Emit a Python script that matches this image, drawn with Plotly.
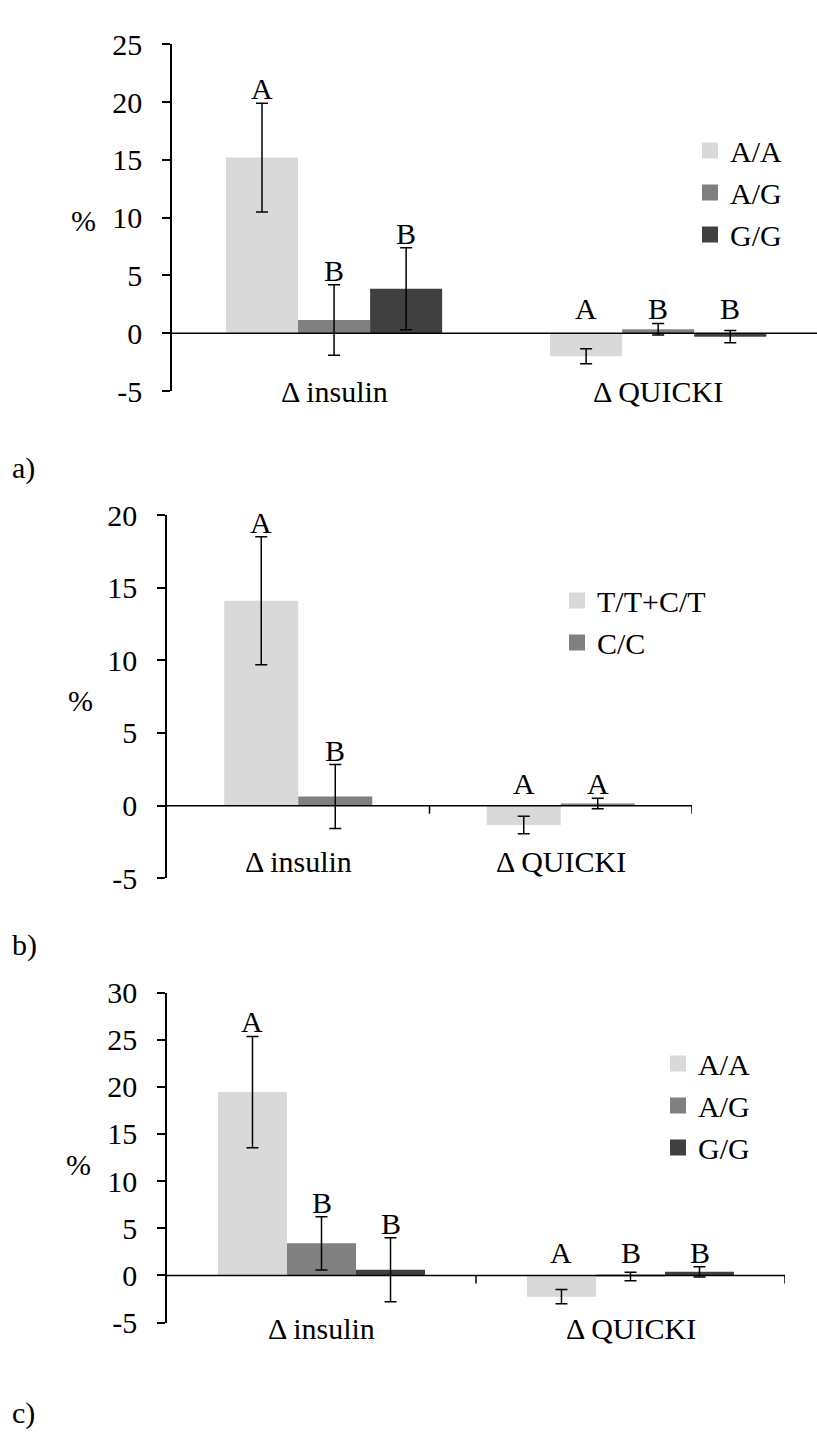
import plotly.graph_objects as go

W, H = 817, 1447
FONT = "Liberation Serif, Times New Roman, serif"
FS = 30

categories = ["Δ insulin", "Δ QUICKI"]

# ---- panel a ----
a_names = ["A/A", "A/G", "G/G"]
a_AA = [15.2, -2.0]
a_AA_err = [4.7, 0.65]
a_AG = [1.15, 0.35]
a_AG_err = [3.05, 0.5]
a_GG = [3.85, -0.3]
a_GG_err = [3.55, 0.53]
a_letters = [["A", "A"], ["B", "B"], ["B", "B"]]
a_ticks = [-5, 0, 5, 10, 15, 20, 25]

# ---- panel b ----
b_names = ["T/T+C/T", "C/C"]
b_TT = [14.1, -1.33]
b_TT_err = [4.4, 0.6]
b_CC = [0.63, 0.15]
b_CC_err = [2.2, 0.36]
b_letters = [["A", "A"], ["B", "A"]]
b_ticks = [-5, 0, 5, 10, 15, 20]

# ---- panel c ----
c_names = ["A/A", "A/G", "G/G"]
c_AA = [19.45, -2.25]
c_AA_err = [5.9, 0.76]
c_AG = [3.4, -0.12]
c_AG_err = [2.83, 0.45]
c_GG = [0.6, 0.38]
c_GG_err = [3.4, 0.55]
c_letters = [["A", "A"], ["B", "B"], ["B", "B"]]
c_ticks = [-5, 0, 5, 10, 15, 20, 25, 30]

panel_labels = ["a)", "b)", "c)"]

colors3 = ["#d9d9d9", "#808080", "#404040"]
colors2 = ["#d9d9d9", "#808080"]


def py(px):
    return 1 - px / H


def pxx(px):
    return px / W


panels = [
    dict(sfx="", names=a_names, vals=[a_AA, a_AG, a_GG], errs=[a_AA_err, a_AG_err, a_GG_err],
         letters=a_letters, colors=colors3, ticks=a_ticks, xdom=[pxx(172), 1.0], ydom=[py(383), py(28)],
         xrange=[-0.5, 1.49], frac=0.667, cat_shift=0, legend="legend",
         leg_pos=(690, 110), pct=(83, 208), lab_y=462, dividers=[]),
    dict(sfx="2", names=b_names, vals=[b_TT, b_CC], errs=[b_TT_err, b_CC_err],
         letters=b_letters, colors=colors2, ticks=b_ticks, xdom=[pxx(167), pxx(692)], ydom=[py(882), py(510)],
         xrange=[-0.5, 1.5], frac=0.564, cat_shift=17, legend="legend2",
         leg_pos=(557, 571), pct=(80, 700), lab_y=950, dividers=[0.5, 1.5]),
    dict(sfx="3", names=c_names, vals=[c_AA, c_AG, c_GG], errs=[c_AA_err, c_AG_err, c_GG_err],
         letters=c_letters, colors=colors3, ticks=c_ticks, xdom=[pxx(167), pxx(785)], ydom=[py(1337), py(999)],
         xrange=[-0.5, 1.5], frac=0.67, cat_shift=-6, legend="legend3",
         leg_pos=(658, 1045), pct=(78, 1175), lab_y=1430, dividers=[0.5, 1.5]),
]

fig = go.Figure()
annotations = []
shapes = []
layout = {}

for k, p in enumerate(panels):
    xa = "x" + p["sfx"]
    ya = "y" + p["sfx"]
    n = len(p["names"])
    w = p["frac"] / n
    yrange = [min(p["ticks"]), max(p["ticks"])]
    for i in range(n):
        off = -p["frac"] / 2 + i * w
        fig.add_trace(go.Bar(
            x=categories, y=p["vals"][i], name=p["names"][i],
            marker=dict(color=p["colors"][i], line=dict(width=0)),
            width=w, offset=off,
            error_y=dict(type="data", array=p["errs"][i], color="black", thickness=1.5, width=6),
            xaxis=xa, yaxis=ya, showlegend=False,
        ))
        # legend entry with a larger square key
        fig.add_trace(go.Scatter(
            x=[None], y=[None], mode="markers", name=p["names"][i],
            marker=dict(symbol="square", size=16, color=p["colors"][i], line=dict(width=0)),
            xaxis=xa, yaxis=ya, legend=p["legend"], showlegend=True, hoverinfo="skip",
        ))
    # significance letters
    tops = [[v + e for v, e in zip(p["vals"][i], p["errs"][i])] for i in range(n)]
    for c in range(len(categories)):
        grp_top = max(max(tops[i][c] for i in range(n)), 0)
        for i in range(n):
            ytop = tops[i][c] if c == 0 else grp_top
            annotations.append(dict(
                x=c - p["frac"] / 2 + (i + 0.5) * w, y=ytop, xref=xa, yref=ya,
                text=p["letters"][i][c], showarrow=False, yanchor="bottom", yshift=-4,
                font=dict(family=FONT, size=FS, color="black")))
    # category labels
    for c, cat in enumerate(categories):
        annotations.append(dict(
            x=c, y=yrange[0], xref=xa, yref=ya, text=cat, showarrow=False,
            yanchor="middle", yshift=p["cat_shift"],
            font=dict(family=FONT, size=FS, color="black")))
    # % label
    annotations.append(dict(x=pxx(p["pct"][0]), y=py(p["pct"][1]), xref="paper", yref="paper",
                            text="%", showarrow=False, xanchor="center", yanchor="middle",
                            font=dict(family=FONT, size=FS, color="black")))
    # panel label
    annotations.append(dict(x=pxx(10), y=py(p["lab_y"]), xref="paper", yref="paper",
                            text=panel_labels[k], showarrow=False, xanchor="left", yanchor="middle",
                            font=dict(family=FONT, size=FS, color="black")))
    # zero line above bars
    shapes.append(dict(type="line", xref=xa + " domain", yref=ya, x0=0, x1=1, y0=0, y1=0,
                       line=dict(color="black", width=1.5), layer="above"))
    for d in p["dividers"]:
        shapes.append(dict(type="line", xref=xa, yref=ya, ysizemode="pixel", yanchor=0,
                           x0=d, x1=d, y0=0, y1=-8, line=dict(color="black", width=1.5)))

    layout["xaxis" + p["sfx"]] = dict(domain=p["xdom"], range=p["xrange"], anchor=ya,
                                     visible=False, type="category", fixedrange=True)
    layout["yaxis" + p["sfx"]] = dict(domain=p["ydom"], range=yrange, anchor=xa,
                                     tickmode="array", tickvals=p["ticks"],
                                     ticktext=[str(t) for t in p["ticks"]],
                                     showgrid=False, zeroline=False,
                                     showline=True, linecolor="black", linewidth=1.5,
                                     ticks="outside", ticklen=8, tickwidth=1.5, tickcolor="black",
                                     ticklabelstandoff=14,
                                     tickfont=dict(family=FONT, size=FS, color="black"),
                                     fixedrange=True)
    layout[p["legend"]] = dict(x=pxx(p["leg_pos"][0]), y=py(p["leg_pos"][1]), xanchor="left",
                              yanchor="top", bgcolor="rgba(0,0,0,0)", itemsizing="trace",
                              font=dict(family=FONT, size=FS, color="black"))

fig.update_layout(
    width=W, height=H, margin=dict(l=0, r=0, t=0, b=0),
    paper_bgcolor="white", plot_bgcolor="white",
    barmode="overlay", annotations=annotations, shapes=shapes,
    font=dict(family=FONT, size=FS, color="black"),
    **layout,
)

fig.write_html("out.html")
